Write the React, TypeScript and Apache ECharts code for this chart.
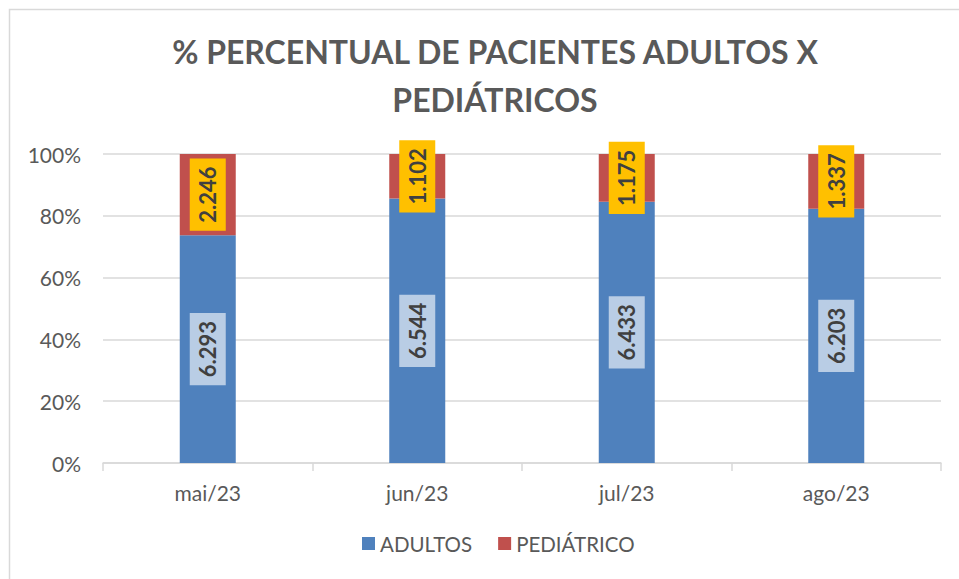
import React, { useEffect, useRef } from "react";
import * as echarts from "echarts";

const categories = ["mai/23", "jun/23", "jul/23", "ago/23"];
const adultos = [6293, 6544, 6433, 6203];
const pediatrico = [2246, 1102, 1175, 1337];
const titleText = "% PERCENTUAL DE PACIENTES ADULTOS X\nPEDIÁTRICOS";
const FONT = "Lato, 'Open Sans', sans-serif";

const fmt = (v: number) => v.toString().replace(/\B(?=(\d{3})+(?!\d))/g, ".");

export default function App() {
  const ref = useRef<HTMLDivElement>(null);
  useEffect(() => {
    if (!ref.current) return;
    const chart = echarts.init(ref.current, undefined, { renderer: "svg" });
    const totals = adultos.map((a, i) => a + pediatrico[i]);
    const adPct = adultos.map((a, i) => ({ value: (a / totals[i]) * 100, raw: a }));
    const pePct = pediatrico.map((p, i) => ({ value: (p / totals[i]) * 100, raw: p }));
    const labelBase = {
      show: true,
      position: "inside",
      rotate: 90,
      fontFamily: FONT,
      fontWeight: "bold",
      fontSize: 22,
      color: "#404040",
      padding: [8, 8, 6, 8],
      formatter: (p: any) => fmt(p.data.raw),
    };
    chart.setOption({
      animation: false,
      backgroundColor: "#ffffff",
      title: {
        text: titleText,
        left: 490,
        top: 22,
        textAlign: "center",
        textStyle: {
          fontFamily: FONT,
          fontWeight: "bold",
          fontSize: 32,
          lineHeight: 48,
          color: "#595959",
        },
      },
      graphic: [
        {
          type: "rect",
          shape: { x: 9.5, y: 9.5, width: 1000, height: 1000 },
          style: { fill: "none", stroke: "#d9d9d9", lineWidth: 1.5 },
          silent: true,
        },
      ],
      legend: {
        bottom: 20,
        left: 357,
        itemWidth: 13,
        itemHeight: 13,
        itemGap: 26,
        icon: "rect",
        textStyle: { fontFamily: FONT, fontSize: 20.5, color: "#595959" },
        data: ["ADULTOS", "PEDIÁTRICO"],
      },
      grid: { left: 103, right: 18, top: 154, bottom: 116 },
      xAxis: {
        type: "category",
        data: categories,
        axisLine: { lineStyle: { color: "#d9d9d9", width: 1.5 } },
        axisTick: { show: true, length: 8, lineStyle: { color: "#d9d9d9", width: 1.5 } },
        axisLabel: { fontFamily: FONT, fontSize: 21, color: "#595959", margin: 19 },
      },
      yAxis: {
        type: "value",
        min: 0,
        max: 100,
        interval: 20,
        axisLine: { show: false },
        axisTick: { show: false },
        splitLine: { lineStyle: { color: "#d9d9d9", width: 1.5 } },
        axisLabel: {
          fontFamily: FONT,
          fontSize: 21,
          color: "#595959",
          margin: 22,
          formatter: "{value}%",
        },
      },
      series: [
        {
          name: "ADULTOS",
          type: "bar",
          stack: "t",
          barWidth: 56,
          data: adPct,
          itemStyle: { color: "#4F81BD" },
          label: { ...labelBase, backgroundColor: "#B9CDE5" },
        },
        {
          name: "PEDIÁTRICO",
          type: "bar",
          stack: "t",
          barWidth: 56,
          data: pePct,
          itemStyle: { color: "#C0504D" },
          label: { ...labelBase, backgroundColor: "#FFC000" },
        },
      ],
    });
    return () => chart.dispose();
  }, []);
  return (
    <div
      ref={ref}
      style={{ position: "fixed", left: 0, top: 0, width: 959, height: 579 }}
    />
  );
}
